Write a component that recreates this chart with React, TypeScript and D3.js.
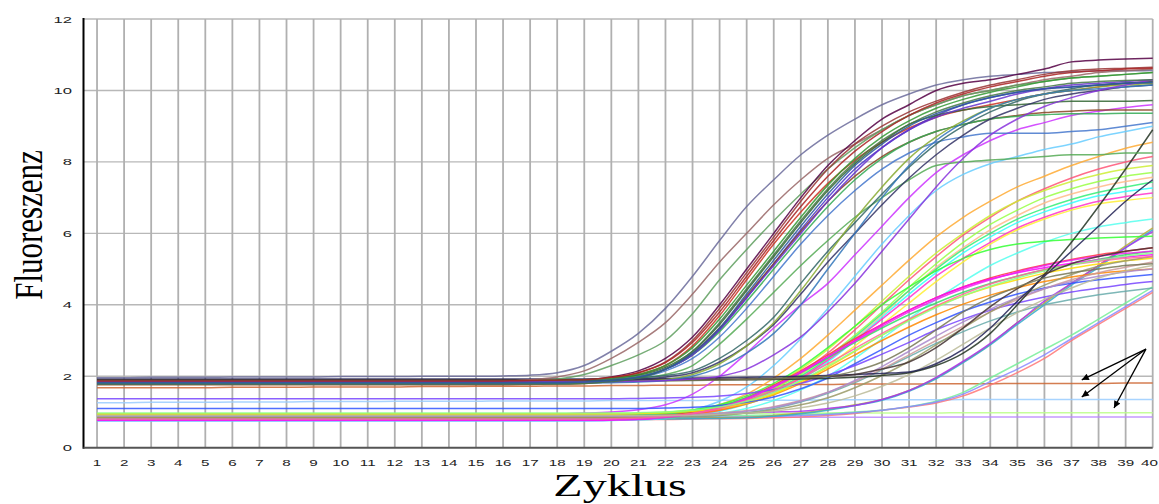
import * as d3 from "d3";

const W = 1159;
const H = 504;

const CYCLES = [1, 2, 3, 4, 5, 6, 7, 8, 9, 10, 11, 12, 13, 14, 15, 16, 17, 18, 19, 20, 21, 22, 23, 24, 25, 26, 27, 28, 29, 30, 31, 32, 33, 34, 35, 36, 37, 38, 39, 40];
const Y_TICKS = [0, 2, 4, 6, 8, 10, 12];

// flat / non-amplifying wells
const FLAT_CURVES: number[][] = [
  [1.68,1.68,1.68,1.68,1.68,1.69, 1.69,1.69,1.7,1.7,1.7,1.7, 1.71,1.71,1.72,1.72,1.72,1.73, 1.73,1.74, 1.74,1.75,1.75,1.76,1.76,1.76,1.77,1.77,1.78,1.78, 1.78,1.79,1.79,1.79,1.8,1.8,1.8,1.8,1.81,1.81],
  [1.26,1.26,1.27,1.27,1.27,1.28, 1.28,1.28,1.29,1.29,1.29,1.3, 1.3,1.3,1.3,1.31,1.31,1.31, 1.31,1.32, 1.32,1.32,1.32,1.33,1.33,1.33,1.33,1.34,1.34,1.34, 1.34,1.34,1.35,1.35,1.35,1.35,1.35,1.35,1.35,1.35],
  [0.94,0.94,0.94,0.94,0.94,0.94, 0.94,0.94,0.94,0.94,0.94,0.94, 0.94,0.94,0.94,0.94,0.94,0.94, 0.95,0.95, 0.95,0.95,0.96,0.96,0.96,0.96,0.97,0.97,0.97,0.97, 0.97,0.97,0.98,0.98,0.98,0.98,0.98,0.98,0.98,0.98],
  [0.84,0.84,0.84,0.84,0.84,0.84, 0.84,0.84,0.84,0.84,0.84,0.84, 0.84,0.84,0.84,0.84,0.84,0.84, 0.84,0.84, 0.85,0.85,0.85,0.85,0.85,0.85,0.85,0.85,0.85,0.85, 0.86,0.86,0.86,0.86,0.86,0.86,0.86,0.86,0.86,0.86],
];
const FLAT_COLORS = ["#cc6633", "#99ccff", "#bbff88", "#bb88ff"];

// late wells from the low baseline
const LATE_CURVES: number[][] = [
  [0.78,0.78,0.78,0.78,0.78,0.78, 0.78,0.78,0.78,0.78,0.78,0.78, 0.78,0.78,0.78,0.78,0.78,0.78, 0.78,0.78, 0.79,0.79,0.8,0.81,0.82,0.84,0.86,0.9,0.96,1.05, 1.14,1.25,1.45,1.75,2.1,2.5,3.0,3.45,3.9,4.35],
  [0.85,0.85,0.85,0.85,0.85,0.85, 0.85,0.85,0.85,0.85,0.85,0.85, 0.85,0.85,0.85,0.85,0.85,0.85, 0.85,0.86, 0.86,0.87,0.88,0.89,0.9,0.91,0.93,0.95,1.0,1.05, 1.15,1.3,1.55,1.95,2.35,2.75,3.15,3.6,4.05,4.5],
  [0.82,0.82,0.82,0.82,0.82,0.82, 0.82,0.82,0.82,0.82,0.82,0.82, 0.82,0.82,0.82,0.82,0.82,0.82, 0.82,0.82, 0.83,0.83,0.84,0.85,0.86,0.88,0.9,0.93,0.98,1.05, 1.15,1.28,1.5,1.85,2.2,2.6,3.05,3.5,3.95,4.4],
  [0.8,0.8,0.8,0.8,0.8,0.8, 0.8,0.8,0.8,0.8,0.8,0.8, 0.8,0.8,0.8,0.8,0.8,0.8, 0.8,0.81, 0.81,0.82,0.83,0.84,0.85,0.9,0.97,1.07,1.2,1.35, 1.6,1.95,2.4,2.9,3.5,4.05,4.6,5.1,5.65,6.15],
  [0.78,0.78,0.78,0.78,0.78,0.78, 0.78,0.78,0.78,0.78,0.78,0.78, 0.78,0.78,0.78,0.78,0.78,0.78, 0.78,0.79, 0.79,0.8,0.81,0.82,0.84,0.88,0.95,1.05,1.18,1.33, 1.58,1.93,2.38,2.88,3.45,4.0,4.55,5.05,5.6,6.1],
  [0.9,0.9,0.9,0.9,0.9,0.9, 0.9,0.9,0.9,0.9,0.9,0.9, 0.9,0.9,0.9,0.9,0.9,0.9, 0.9,0.91, 0.92,0.93,0.94,0.96,0.98,1.0,1.02,1.1,1.18,1.35, 1.6,1.97,2.42,2.92,3.5,4.1,4.6,5.1,5.6,6.05],
];
const LATE_COLORS = ["#ff7777", "#77ee99", "#8888ff", "#bbaa33", "#33aacc", "#aa33ee"];

// bright wells, low baseline, middle cycles
const MID_CURVES: number[][] = [
  [0.95,0.95,0.95,0.95,0.95,0.95, 0.95,0.95,0.95,0.95,0.95,0.95, 0.95,0.95,0.95,0.95,0.95,0.95, 0.97,1.0, 1.06,1.2,1.5,2.0,2.65,3.35,4.0,4.6,5.4,6.2, 7.0,7.7,8.2,8.6,8.9,9.1,9.3,9.42,9.52,9.6],
  [0.8,0.8,0.8,0.8,0.8,0.8, 0.8,0.8,0.8,0.8,0.8,0.8, 0.8,0.8,0.8,0.8,0.8,0.8, 0.8,0.82, 0.85,0.92,1.05,1.3,1.7,2.3,3.05,3.9,4.8,5.7, 6.5,7.2,7.65,7.95,8.15,8.35,8.5,8.7,8.85,9.0],
  [0.85,0.85,0.85,0.85,0.85,0.85, 0.85,0.85,0.85,0.85,0.85,0.85, 0.85,0.85,0.85,0.85,0.85,0.85, 0.85,0.86, 0.88,0.93,1.03,1.2,1.5,1.95,2.5,3.15,3.85,4.55, 5.25,5.9,6.45,6.9,7.3,7.6,7.9,8.15,8.38,8.55],
  [0.82,0.82,0.82,0.82,0.82,0.82, 0.82,0.82,0.82,0.82,0.82,0.82, 0.82,0.82,0.82,0.82,0.82,0.82, 0.82,0.83, 0.85,0.88,0.95,1.08,1.3,1.65,2.1,2.65,3.3,4.0, 4.7,5.35,5.95,6.45,6.9,7.25,7.55,7.8,8.0,8.15],
  [0.9,0.9,0.9,0.9,0.9,0.9, 0.9,0.9,0.9,0.9,0.9,0.9, 0.9,0.9,0.9,0.9,0.9,0.9, 0.9,0.91, 0.93,0.97,1.04,1.17,1.4,1.75,2.2,2.75,3.4,4.1, 4.8,5.45,6.0,6.5,6.9,7.2,7.45,7.65,7.8,7.9],
  [0.95,0.95,0.95,0.95,0.95,0.95, 0.95,0.95,0.95,0.95,0.95,0.95, 0.95,0.95,0.95,0.95,0.95,0.95, 0.95,0.96, 0.97,1.0,1.06,1.17,1.35,1.65,2.05,2.55,3.15,3.8, 4.5,5.15,5.75,6.25,6.65,7.0,7.25,7.45,7.6,7.7],
  [0.88,0.88,0.88,0.88,0.88,0.88, 0.88,0.88,0.88,0.88,0.88,0.88, 0.88,0.88,0.88,0.88,0.88,0.88, 0.88,0.89, 0.9,0.93,0.99,1.1,1.28,1.55,1.95,2.45,3.05,3.7, 4.4,5.05,5.6,6.1,6.5,6.85,7.1,7.3,7.45,7.57],
  [0.85,0.85,0.85,0.85,0.85,0.85, 0.85,0.85,0.85,0.85,0.85,0.85, 0.85,0.85,0.85,0.85,0.85,0.85, 0.85,0.86, 0.88,0.92,1.0,1.12,1.3,1.6,2.0,2.5,3.1,3.75, 4.4,5.0,5.55,6.0,6.4,6.7,6.95,7.15,7.3,7.44],
  [0.75,0.75,0.75,0.75,0.75,0.75, 0.75,0.75,0.75,0.75,0.75,0.75, 0.75,0.75,0.75,0.75,0.75,0.75, 0.75,0.76, 0.78,0.82,0.9,1.02,1.22,1.5,1.9,2.4,3.0,3.65, 4.3,4.9,5.45,5.9,6.3,6.6,6.85,7.05,7.17,7.27],
  [0.78,0.78,0.78,0.78,0.78,0.78, 0.78,0.78,0.78,0.78,0.78,0.78, 0.78,0.78,0.78,0.78,0.78,0.78, 0.78,0.79, 0.81,0.85,0.93,1.05,1.25,1.55,1.95,2.45,3.0,3.6, 4.2,4.8,5.3,5.75,6.15,6.45,6.7,6.9,7.03,7.13],
  [0.92,0.92,0.92,0.92,0.92,0.92, 0.92,0.92,0.92,0.92,0.92,0.92, 0.92,0.92,0.92,0.92,0.92,0.92, 0.92,0.93, 0.94,0.97,1.02,1.12,1.28,1.52,1.85,2.3,2.85,3.45, 4.05,4.65,5.2,5.7,6.1,6.4,6.65,6.82,6.92,7.0],
  [0.8,0.8,0.8,0.8,0.8,0.8, 0.8,0.8,0.8,0.8,0.8,0.8, 0.8,0.8,0.8,0.8,0.8,0.8, 0.8,0.8, 0.81,0.83,0.88,0.96,1.1,1.32,1.62,2.0,2.5,3.05, 3.6,4.15,4.65,5.1,5.45,5.75,6.0,6.18,6.3,6.4],
  [0.9,0.9,0.9,0.9,0.9,0.9, 0.9,0.9,0.9,0.9,0.9,0.9, 0.9,0.9,0.9,0.9,0.9,0.9, 0.9,0.9, 0.92,0.96,1.05,1.2,1.45,1.8,2.25,2.8,3.4,4.0, 4.5,4.95,5.3,5.55,5.7,5.78,5.83,5.87,5.9,5.92],
  [0.85,0.85,0.85,0.85,0.85,0.85, 0.85,0.85,0.85,0.85,0.85,0.85, 0.85,0.85,0.85,0.85,0.85,0.85, 0.85,0.86, 0.88,0.92,1.0,1.15,1.4,1.75,2.15,2.6,3.05,3.45, 3.85,4.2,4.5,4.75,4.95,5.12,5.27,5.4,5.5,5.6],
  [0.88,0.88,0.88,0.88,0.88,0.88, 0.88,0.88,0.88,0.88,0.88,0.88, 0.88,0.88,0.88,0.88,0.88,0.88, 0.88,0.89, 0.91,0.95,1.03,1.17,1.4,1.72,2.1,2.52,2.95,3.35, 3.72,4.05,4.35,4.6,4.8,4.98,5.13,5.27,5.4,5.5],
  [0.76,0.76,0.76,0.76,0.76,0.76, 0.76,0.76,0.76,0.76,0.76,0.76, 0.76,0.76,0.76,0.76,0.76,0.76, 0.76,0.77, 0.79,0.84,0.93,1.1,1.35,1.7,2.1,2.55,3.0,3.45, 3.85,4.2,4.5,4.72,4.9,5.04,5.16,5.26,5.34,5.4],
  [0.84,0.84,0.84,0.84,0.84,0.84, 0.84,0.84,0.84,0.84,0.84,0.84, 0.84,0.84,0.84,0.84,0.84,0.84, 0.84,0.85, 0.86,0.89,0.95,1.05,1.22,1.48,1.8,2.2,2.6,3.0, 3.38,3.72,4.02,4.27,4.48,4.65,4.78,4.88,4.95,5.0],
  [0.95,0.95,0.95,0.95,0.95,0.95, 0.95,0.95,0.95,0.95,0.95,0.95, 0.95,0.95,0.95,0.95,0.95,0.95, 0.95,0.95, 0.96,0.98,1.02,1.1,1.25,1.5,1.85,2.25,2.7,3.15, 3.58,3.95,4.25,4.5,4.7,4.88,5.02,5.14,5.23,5.3],
  [1.1,1.1,1.1,1.1,1.1,1.1, 1.1,1.1,1.1,1.1,1.1,1.1, 1.1,1.1,1.1,1.1,1.1,1.1, 1.1,1.1, 1.1,1.11,1.13,1.18,1.27,1.42,1.65,1.95,2.35,2.75, 3.15,3.5,3.82,4.08,4.3,4.47,4.6,4.7,4.78,4.85],
  [1.37,1.37,1.37,1.37,1.37,1.37, 1.37,1.37,1.37,1.37,1.37,1.37, 1.37,1.37,1.37,1.37,1.37,1.37, 1.37,1.37, 1.38,1.39,1.41,1.45,1.52,1.63,1.8,2.03,2.3,2.62, 2.95,3.3,3.6,3.85,4.05,4.22,4.36,4.47,4.57,4.65],
  [0.82,0.82,0.82,0.82,0.82,0.82, 0.82,0.82,0.82,0.82,0.82,0.82, 0.82,0.82,0.82,0.82,0.82,0.82, 0.82,0.82, 0.82,0.83,0.86,0.9,0.98,1.1,1.28,1.52,1.82,2.18, 2.55,2.92,3.25,3.55,3.8,4.0,4.15,4.28,4.38,4.47],
  [0.9,0.9,0.9,0.9,0.9,0.9, 0.9,0.9,0.9,0.9,0.9,0.9, 0.9,0.9,0.9,0.9,0.9,0.9, 0.9,0.9, 0.9,0.91,0.93,0.97,1.04,1.15,1.32,1.55,1.85,2.2, 2.6,3.0,3.4,3.8,4.15,4.45,4.7,4.9,5.05,5.2],
  [0.85,0.85,0.85,0.85,0.85,0.85, 0.85,0.85,0.85,0.85,0.85,0.85, 0.85,0.85,0.85,0.85,0.85,0.85, 0.85,0.85, 0.85,0.86,0.88,0.91,0.97,1.06,1.2,1.4,1.68,2.02, 2.42,2.88,3.35,3.8,4.2,4.55,4.85,5.08,5.23,5.35],
  [0.88,0.88,0.88,0.88,0.88,0.88, 0.88,0.88,0.88,0.88,0.88,0.88, 0.88,0.88,0.88,0.88,0.88,0.88, 0.88,0.88, 0.88,0.89,0.91,0.95,1.02,1.13,1.3,1.55,1.88,2.27, 2.7,3.12,3.52,3.88,4.2,4.45,4.65,4.8,4.92,5.0],
  [0.77,0.77,0.77,0.77,0.77,0.77, 0.77,0.77,0.77,0.77,0.77,0.77, 0.77,0.77,0.77,0.77,0.77,0.77, 0.77,0.78, 0.8,0.85,0.95,1.12,1.38,1.72,2.12,2.55,2.98,3.4, 3.8,4.15,4.45,4.7,4.92,5.1,5.25,5.36,5.44,5.5],
  [0.8,0.8,0.8,0.8,0.8,0.8, 0.8,0.8,0.8,0.8,0.8,0.8, 0.8,0.8,0.8,0.8,0.8,0.8, 0.8,0.81, 0.83,0.87,0.96,1.1,1.32,1.6,1.95,2.35,2.78,3.2, 3.6,3.97,4.3,4.58,4.8,4.98,5.12,5.22,5.3,5.35],
  [0.97,0.97,0.97,0.97,0.97,0.97, 0.97,0.97,0.97,0.97,0.97,0.97, 0.97,0.97,0.97,0.97,0.97,0.97, 0.97,0.97, 0.98,1.0,1.05,1.14,1.3,1.55,1.88,2.28,2.72,3.15, 3.55,3.92,4.25,4.52,4.75,4.95,5.12,5.25,5.36,5.45],
  [0.9,0.9,0.9,0.9,0.9,0.9, 0.9,0.9,0.9,0.9,0.9,0.9, 0.9,0.9,0.9,0.9,0.9,0.9, 0.9,0.9, 0.9,0.9,0.91,0.93,0.97,1.03,1.12,1.25,1.45,1.72, 2.05,2.45,2.9,3.35,3.78,4.15,4.47,4.75,4.95,5.1],
];
const MID_COLORS = [
  "#cc33ff", "#66ccff", "#ffaa33", "#ff5577", "#ccee33", "#99ff44", "#ffbb88", "#33ee77",
  "#33ffff", "#ff33cc", "#ffee33", "#55ffee", "#33ff33", "#ff3344", "#33dd66", "#ff00ff",
  "#ff8800", "#ffdd00", "#3355ff", "#7744ff", "#66aaaa", "#cc9999", "#999966", "#aa88cc",
  "#ee22ee", "#ff6699", "#88ff88", "#bbbb99",
];

// dark wells that start late from the high baseline
const SLOW_CURVES: number[][] = [
  [1.88,1.88,1.88,1.88,1.88,1.88, 1.88,1.88,1.88,1.88,1.88,1.88, 1.88,1.88,1.88,1.88,1.88,1.88, 1.88,1.88, 1.88,1.89,1.89,1.9,1.9,1.91,1.92,1.94,1.97,2.02, 2.1,2.3,2.65,3.2,4.0,4.85,5.75,6.75,7.8,8.9],
  [1.92,1.92,1.92,1.92,1.92,1.92, 1.92,1.92,1.92,1.92,1.92,1.92, 1.92,1.92,1.92,1.92,1.92,1.92, 1.92,1.93, 1.93,1.94,1.95,1.96,1.97,1.98,2.0,2.02,2.05,2.08, 2.12,2.35,2.75,3.35,4.1,4.8,5.5,6.2,6.9,7.5],
  [1.9,1.9,1.9,1.9,1.9,1.9, 1.9,1.9,1.9,1.9,1.9,1.9, 1.9,1.9,1.9,1.9,1.9,1.9, 1.9,1.9, 1.91,1.91,1.92,1.92,1.93,1.94,1.96,1.99,2.05,2.2, 2.4,2.8,3.35,3.95,4.45,4.85,5.15,5.35,5.5,5.6],
  [1.85,1.85,1.85,1.85,1.85,1.85, 1.85,1.85,1.85,1.85,1.85,1.85, 1.85,1.85,1.85,1.85,1.85,1.85, 1.85,1.86, 1.86,1.87,1.88,1.89,1.91,1.93,1.96,2.0,2.15,2.4, 2.8,3.3,3.8,4.2,4.5,4.75,4.9,5.0,5.1,5.15],
];
const SLOW_COLORS = ["#223322", "#222255", "#443333", "#777755"];

// early wells, high baseline
const EARLY_CURVES: number[][] = [
  [1.96,1.96,1.97,1.97,1.97,1.98, 1.98,1.98,1.98,1.99,1.99,1.99, 2.0,2.0,2.0,2.01,2.03,2.1, 2.3,2.7, 3.2,3.9,4.8,5.8,6.75,7.5,8.2,8.75,9.2,9.6, 9.9,10.15,10.3,10.4,10.45,10.5,10.52,10.55,10.55,10.56],
  [1.84,1.84,1.84,1.84,1.84,1.84, 1.84,1.84,1.84,1.84,1.84,1.84, 1.84,1.84,1.84,1.86,1.9,1.98, 2.15,2.5, 2.95,3.5,4.3,5.2,6.0,6.8,7.5,8.1,8.5,8.9, 9.3,9.6,9.85,10.0,10.15,10.3,10.4,10.5,10.55,10.6],
  [1.82,1.82,1.82,1.82,1.82,1.82, 1.82,1.82,1.82,1.82,1.82,1.82, 1.82,1.82,1.82,1.85,1.87,1.92, 2.05,2.3, 2.6,3.0,3.75,4.7,5.55,6.35,7.1,7.8,8.4,8.9, 9.3,9.6,9.85,10.0,10.15,10.25,10.35,10.4,10.45,10.5],
  [1.85,1.85,1.85,1.85,1.85,1.85, 1.85,1.85,1.85,1.85,1.85,1.85, 1.85,1.85,1.85,1.86,1.87,1.88, 1.9,1.98, 2.15,2.5,3.1,4.0,5.0,6.0,7.0,7.9,8.6,9.2, 9.6,10.0,10.2,10.3,10.45,10.6,10.8,10.85,10.88,10.9],
  [1.8,1.8,1.8,1.8,1.8,1.8, 1.8,1.8,1.8,1.8,1.8,1.8, 1.8,1.8,1.8,1.8,1.82,1.84, 1.88,1.95, 2.1,2.4,3.0,3.9,4.9,5.9,6.9,7.8,8.5,9.0, 9.4,9.7,9.95,10.15,10.3,10.45,10.55,10.6,10.62,10.65],
  [1.78,1.78,1.78,1.78,1.78,1.78, 1.78,1.78,1.78,1.78,1.78,1.78, 1.78,1.78,1.78,1.78,1.8,1.82, 1.86,1.93, 2.05,2.3,2.85,3.7,4.7,5.7,6.6,7.4,8.05,8.55, 8.95,9.25,9.45,9.6,9.75,9.9,10.0,10.1,10.2,10.25],
  [1.86,1.86,1.86,1.86,1.86,1.86, 1.86,1.86,1.86,1.86,1.86,1.86, 1.86,1.86,1.86,1.86,1.87,1.88, 1.9,1.95, 2.05,2.3,2.8,3.6,4.55,5.5,6.45,7.35,8.1,8.7, 9.15,9.5,9.75,9.95,10.1,10.25,10.35,10.4,10.45,10.5],
  [1.8,1.8,1.8,1.8,1.8,1.8, 1.8,1.8,1.8,1.8,1.8,1.8, 1.8,1.8,1.8,1.8,1.81,1.82, 1.84,1.89, 1.98,2.2,2.6,3.3,4.2,5.15,6.1,7.0,7.8,8.4, 8.9,9.3,9.6,9.8,9.95,10.05,10.1,10.15,10.2,10.2],
  [1.83,1.83,1.83,1.83,1.83,1.83, 1.83,1.83,1.83,1.83,1.83,1.83, 1.83,1.83,1.83,1.83,1.84,1.85, 1.87,1.92, 2.02,2.25,2.7,3.45,4.4,5.35,6.3,7.2,7.95,8.55, 9.05,9.3,9.45,9.55,9.6,9.65,9.7,9.7,9.7,9.72],
  [1.76,1.76,1.76,1.76,1.76,1.76, 1.76,1.76,1.76,1.76,1.76,1.76, 1.76,1.76,1.76,1.76,1.77,1.78, 1.8,1.85, 1.95,2.2,2.65,3.35,4.25,5.15,6.05,6.9,7.6,8.15, 8.55,8.85,9.05,9.2,9.3,9.38,9.42,9.45,9.45,9.45],
  [1.84,1.84,1.84,1.84,1.84,1.84, 1.84,1.84,1.84,1.84,1.84,1.84, 1.84,1.84,1.84,1.84,1.85,1.86, 1.88,1.92, 2.0,2.2,2.6,3.25,4.1,5.0,5.9,6.75,7.5,8.1, 8.55,8.85,9.05,9.2,9.28,9.32,9.35,9.35,9.36,9.36],
  [1.81,1.81,1.81,1.81,1.81,1.81, 1.81,1.81,1.81,1.81,1.81,1.81, 1.81,1.81,1.81,1.81,1.82,1.83, 1.85,1.9, 1.98,2.2,2.6,3.3,4.2,5.1,6.0,6.9,7.7,8.4, 8.9,9.25,9.5,9.7,9.9,10.05,10.15,10.2,10.25,10.3],
  [1.79,1.79,1.79,1.79,1.79,1.79, 1.79,1.79,1.79,1.79,1.79,1.79, 1.79,1.79,1.79,1.79,1.8,1.81, 1.83,1.87, 1.95,2.15,2.5,3.1,3.9,4.8,5.7,6.5,7.2,7.8, 8.25,8.55,8.7,8.8,8.8,8.8,8.85,8.9,9.0,9.1],
  [1.85,1.85,1.85,1.85,1.85,1.85, 1.85,1.85,1.85,1.85,1.85,1.85, 1.85,1.85,1.85,1.85,1.85,1.85, 1.87,1.9, 1.95,2.05,2.3,2.9,3.6,4.35,5.1,5.8,6.45,7.0, 7.5,7.9,8.0,8.05,8.1,8.15,8.2,8.2,8.25,8.25],
  [1.86,1.86,1.86,1.86,1.86,1.86, 1.86,1.86,1.86,1.86,1.86,1.86, 1.86,1.86,1.86,1.86,1.86,1.86, 1.88,1.9, 1.95,2.02,2.15,2.5,3.0,3.65,4.6,5.5,6.3,7.1, 7.85,8.5,9.0,9.4,9.7,9.9,10.05,10.15,10.2,10.25],
  [1.83,1.83,1.83,1.83,1.83,1.83, 1.83,1.83,1.83,1.83,1.83,1.83, 1.83,1.83,1.83,1.83,1.83,1.83, 1.85,1.87, 1.91,1.98,2.1,2.4,2.85,3.45,4.3,5.2,6.0,6.8, 7.55,8.2,8.75,9.2,9.5,9.75,9.9,10.0,10.1,10.15],
  [1.82,1.82,1.82,1.82,1.82,1.82, 1.82,1.82,1.82,1.82,1.82,1.82, 1.82,1.82,1.82,1.82,1.82,1.82, 1.83,1.84, 1.86,1.9,2.05,2.35,2.85,3.5,4.4,5.4,6.4,7.3, 8.1,8.7,9.15,9.5,9.75,9.9,10.0,10.1,10.15,10.2],
  [1.8,1.8,1.8,1.8,1.8,1.8, 1.8,1.8,1.8,1.8,1.8,1.8, 1.8,1.8,1.8,1.8,1.8,1.8, 1.81,1.82, 1.84,1.88,2.0,2.25,2.65,3.2,4.0,5.0,6.0,7.0, 7.9,8.6,9.1,9.5,9.75,9.9,10.0,10.05,10.1,10.15],
  [1.84,1.84,1.84,1.84,1.84,1.84, 1.84,1.84,1.84,1.84,1.84,1.84, 1.84,1.84,1.84,1.84,1.84,1.84, 1.84,1.85, 1.86,1.88,1.92,2.0,2.2,2.6,3.1,3.8,4.6,5.5, 6.4,7.3,8.1,8.75,9.2,9.55,9.8,10.0,10.15,10.3],
  [1.87,1.87,1.87,1.87,1.87,1.87, 1.87,1.87,1.87,1.87,1.87,1.87, 1.87,1.87,1.87,1.87,1.88,1.89, 1.9,1.97, 2.1,2.38,2.95,3.8,4.8,5.8,6.75,7.6,8.3,8.85, 9.3,9.65,9.9,10.1,10.25,10.4,10.5,10.55,10.6,10.62],
  [1.78,1.78,1.78,1.78,1.78,1.78, 1.78,1.78,1.78,1.78,1.78,1.78, 1.78,1.78,1.78,1.78,1.78,1.78, 1.8,1.85, 1.95,2.2,2.7,3.5,4.45,5.4,6.35,7.25,8.0,8.6, 9.05,9.4,9.65,9.85,10.0,10.1,10.2,10.25,10.28,10.3],
  [1.82,1.82,1.82,1.82,1.82,1.82, 1.82,1.82,1.82,1.82,1.82,1.82, 1.82,1.82,1.82,1.82,1.82,1.82, 1.84,1.88, 1.97,2.2,2.65,3.35,4.3,5.25,6.2,7.1,7.9,8.5, 9.0,9.35,9.6,9.8,9.95,10.05,10.1,10.15,10.2,10.22],
];
const EARLY_COLORS = [
  "#6b6b9b", "#996666", "#5f9f5f", "#550044", "#993333", "#cc3322", "#339933", "#4433cc",
  "#336633", "#884422", "#33aa55", "#6633cc", "#4477cc", "#55aa55", "#336666", "#333366",
  "#88aa33", "#3377bb", "#8833dd", "#aa2222", "#447744", "#2a5a9a",
];

// annotation arrows (cycle, fluorescence)
const ARROW_FROM = [39.75, 2.76];
const ARROW_TO = [
  [37.38, 1.9],
  [37.38, 1.42],
  [38.57, 1.11],
];

const GROUPS = [
  { curves: FLAT_CURVES, colors: FLAT_COLORS },
  { curves: LATE_CURVES, colors: LATE_COLORS },
  { curves: MID_CURVES, colors: MID_COLORS },
  { curves: SLOW_CURVES, colors: SLOW_COLORS },
  { curves: EARLY_CURVES, colors: EARLY_COLORS },
];

export default function App() {
  const x = d3.scaleLinear().domain([0.5, 40]).range([83.5, 1152.7]);
  const y = d3.scaleLinear().domain([0, 12]).range([447.7, 19]);

  const line = d3
    .line<number>()
    .x((_, i) => x(CYCLES[i]))
    .y((d) => y(d))
    .curve(d3.curveMonotoneX);

  const x0 = x(0.5);
  const x1 = x(40);
  const yTop = y(12);
  const yBot = y(0);
  const lastCycle = CYCLES[CYCLES.length - 1];

  return (
    <svg
      width={W}
      height={H}
      style={{ position: "absolute", left: 0, top: 0, background: "#fff" }}
    >
      <defs>
        <clipPath id="plot">
          <rect x={x0} y={yTop - 1} width={x1 - x0 + 1} height={yBot - yTop + 1} />
        </clipPath>
        <marker
          id="arrowhead"
          viewBox="0 0 10 10"
          refX="10"
          refY="5"
          markerWidth="11"
          markerHeight="7"
          markerUnits="userSpaceOnUse"
          orient="auto"
        >
          <path d="M0,0 L10,5 L0,10 z" fill="#000" />
        </marker>
      </defs>

      {/* grid */}
      {Y_TICKS.filter((t) => t > 0).map((t) => (
        <line key={"h" + t} x1={x0} x2={x1} y1={y(t)} y2={y(t)} stroke="#b8b8b8" strokeWidth={1.4} />
      ))}
      {CYCLES.map((c) => (
        <line key={"v" + c} x1={x(c)} x2={x(c)} y1={yTop} y2={yBot} stroke="#b0b0b0" strokeWidth={1.8} />
      ))}

      {/* curves */}
      <g clipPath="url(#plot)" fill="none">
        {GROUPS.map((g, gi) =>
          g.curves.map((vals, i) => (
            <path
              key={gi + "-" + i}
              d={line(vals) ?? ""}
              stroke={g.colors[i % g.colors.length]}
              strokeWidth={1.5}
              strokeOpacity={0.85}
            />
          ))
        )}
      </g>

      {/* axes */}
      <line x1={x0} x2={x0} y1={yTop - 1} y2={yBot + 1} stroke="#000" strokeWidth={2} />
      <line x1={x0} x2={x1} y1={yBot} y2={yBot} stroke="#555" strokeWidth={2} />

      {/* tick labels */}
      <g fontFamily="Liberation Sans, Arial, sans-serif" fontSize={9.5} fill="#222">
        {Y_TICKS.map((t) => (
          <text key={"yl" + t} transform={`translate(72,${y(t) + 3.5}) scale(1.75,1)`} textAnchor="end">
            {t}
          </text>
        ))}
        {CYCLES.map((c) => (
          <text
            key={"xl" + c}
            transform={`translate(${c === lastCycle ? W - 1 : x(c)},${yBot + 18}) scale(1.6,1)`}
            textAnchor={c === lastCycle ? "end" : "middle"}
          >
            {c}
          </text>
        ))}
      </g>

      {/* axis titles */}
      <text
        transform={`translate(620,496) scale(1.55,1)`}
        textAnchor="middle"
        fontFamily="Liberation Serif, Times New Roman, serif"
        fontSize={31}
        fill="#000"
      >
        Zyklus
      </text>
      <text
        transform={`translate(42,225) scale(1.3,1) rotate(-90)`}
        textAnchor="middle"
        fontFamily="Liberation Serif, Times New Roman, serif"
        fontSize={31}
        fill="#000"
      >
        Fluoreszenz
      </text>

      {/* arrows */}
      {ARROW_TO.map((p, i) => (
        <line
          key={"a" + i}
          x1={x(ARROW_FROM[0])}
          y1={y(ARROW_FROM[1])}
          x2={x(p[0])}
          y2={y(p[1])}
          stroke="#000"
          strokeWidth={1.3}
          markerEnd="url(#arrowhead)"
        />
      ))}
    </svg>
  );
}
